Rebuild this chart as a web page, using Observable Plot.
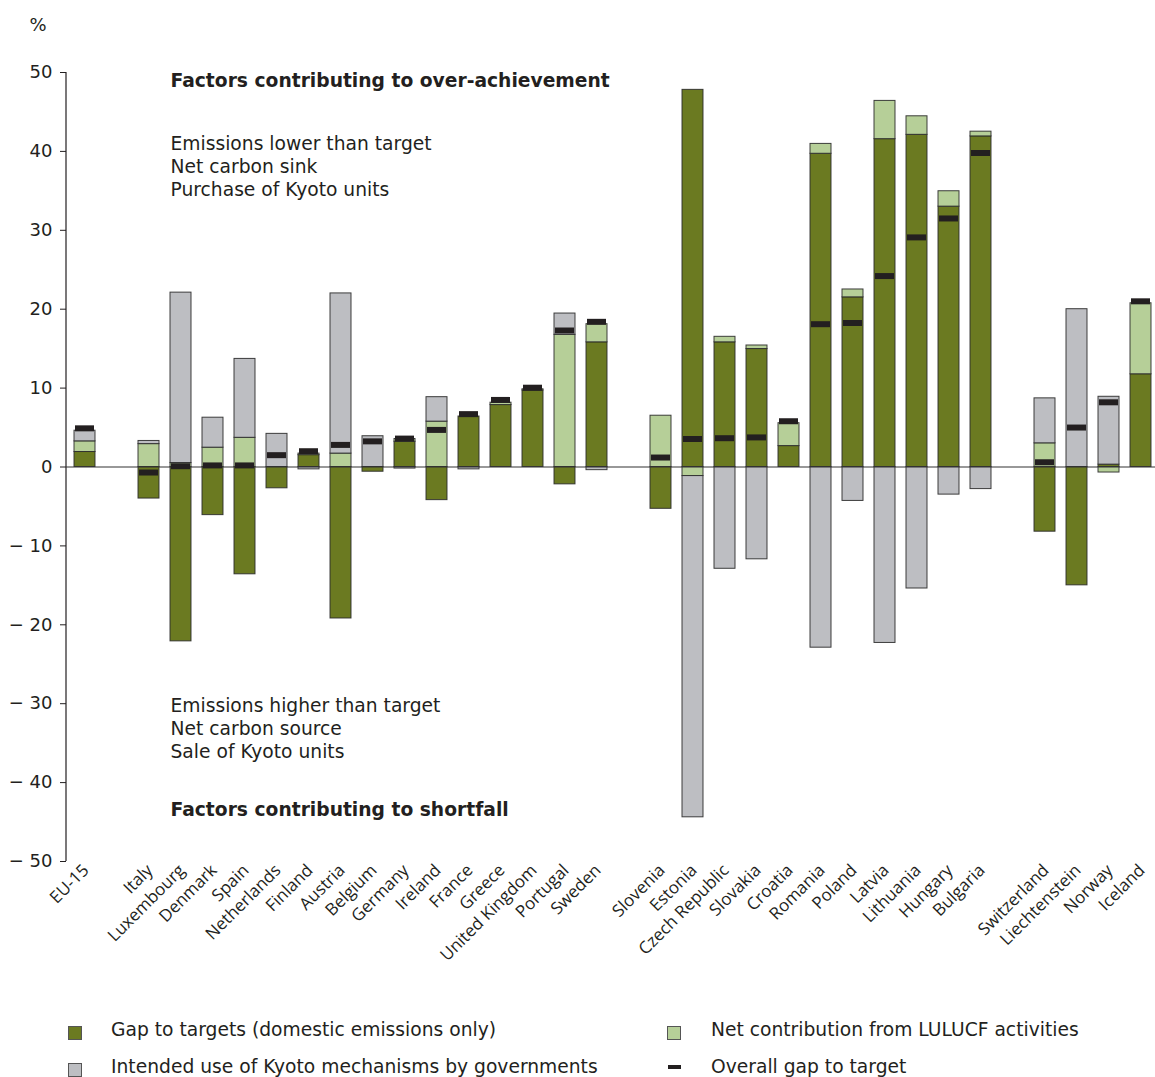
<!DOCTYPE html>
<html>
<head>
<meta charset="utf-8">
<script src="https://cdn.jsdelivr.net/npm/d3@7"></script>
<script src="https://cdn.jsdelivr.net/npm/@observablehq/plot@0.6"></script>
<style>
  html, body { margin: 0; padding: 0; background: white; overflow: hidden; }
  #chart svg { display: block; max-width: none; }
  #legend { position: relative; width: 1155px; height: 77px; font-family: "DejaVu Sans", Verdana, sans-serif; font-size: 18.7px; color: #231f20; }
  .lg-sw { position: absolute; box-sizing: border-box; }
  .lg-tx { position: absolute; line-height: 20px; white-space: nowrap; }
</style>
</head>
<body>
<div id="chart"></div>
<div id="legend"></div>
<script>
// ---- Data ----
const categories = ["EU-15",
  "Italy", "Luxembourg", "Denmark", "Spain", "Netherlands", "Finland", "Austria", "Belgium", "Germany",
  "Ireland", "France", "Greece", "United Kingdom", "Portugal", "Sweden",
  "Slovenia", "Estonia", "Czech Republic", "Slovakia", "Croatia", "Romania", "Poland", "Latvia",
  "Lithuania", "Hungary", "Bulgaria",
  "Switzerland", "Liechtenstein", "Norway", "Iceland"];
const groupEnds = ["EU-15", "Sweden", "Bulgaria"];

const seriesNames = [
  "Gap to targets (domestic emissions only)",
  "Net contribution from LULUCF activities",
  "Intended use of Kyoto mechanisms by governments",
  "Overall gap to target"
];

// Gap to targets (domestic emissions only), %
const gapValues = [1.9,
  -4.0, -22.1, -6.1, -13.6, -2.7, 1.5, -19.2, -0.6, 3.2,
  -4.2, 6.4, 7.85, 9.7, -2.2, 15.8,
  -5.3, 47.8, 15.8, 14.95, 2.65, 39.7, 21.5, 41.55,
  42.1, 33.0, 41.9,
  -8.2, -15.0, 0.3, 11.75];
// Net contribution from LULUCF activities, %
const lulucfValues = [1.35,
  2.9, 0.5, 2.45, 3.7, 0, 0.2, 1.7, 0, 0.35,
  5.75, 0, 0.3, 0.15, 16.75, 2.3,
  6.5, -1.15, 0.7, 0.45, 2.9, 1.25, 1.0, 4.85,
  2.35, 1.95, 0.6,
  3.0, 0, -0.7, 9.0];
// Intended use of Kyoto mechanisms by governments, %
const kyotoValues = [1.35,
  0.4, 21.6, 3.8, 10.0, 4.2, -0.3, 20.3, 3.9, -0.2,
  3.1, -0.3, 0, 0, 2.7, -0.4,
  0, -43.25, -12.9, -11.7, 0, -22.9, -4.3, -22.3,
  -15.4, -3.5, -2.8,
  5.7, 20.0, 8.6, 0];
// Overall gap to target, %
const overallValues = [4.9,
  -0.7, 0.1, 0.2, 0.2, 1.5, 2.0, 2.8, 3.25, 3.6,
  4.7, 6.7, 8.5, 10.05, 17.3, 18.4,
  1.2, 3.55, 3.65, 3.75, 5.8, 18.1, 18.25, 24.2,
  29.1, 31.5, 39.8,
  0.6, 5.0, 8.2, 21.0];

const yTicks = [50, 40, 30, 20, 10, 0, -10, -20, -30, -40, -50];

const headingNotes = ["Factors contributing to over-achievement", "Factors contributing to shortfall"];
const headingY = [48.9, -43.5];
const plainNotes = ["Emissions lower than target", "Net carbon sink", "Purchase of Kyoto units",
  "Emissions higher than target", "Net carbon source", "Sale of Kyoto units"];
const plainY = [40.9, 38.0, 35.1, -30.3, -33.2, -36.1];

const colors = ["#6b7a21", "#b6cf98", "#bdbec2", "#231f20"];

// ---- Build tables ----
const domain = [];
categories.forEach(c => {
  domain.push(c);
  if (groupEnds.includes(c)) domain.push("__gap_" + c);
});

const stackRows = [];
categories.forEach((c, i) => {
  [gapValues[i], lulucfValues[i], kyotoValues[i]].forEach((v, s) => {
    if (v !== 0) stackRows.push({country: c, series: seriesNames[s], value: v});
  });
});
const overallRows = categories.map((c, i) => ({country: c, value: overallValues[i]}));
const headings = headingNotes.map((t, i) => ({text: t, y: headingY[i]}));
const plains = plainNotes.map((t, i) => ({text: t, y: plainY[i]}));

const fmtY = d => d < 0 ? "\u2212 " + Math.abs(d) : String(d);

// vertical axis line along the left edge of the plot frame
function yAxisLine(index, scales, values, dimensions) {
  const {marginLeft, marginTop, marginBottom, height} = dimensions;
  const line = document.createElementNS("http://www.w3.org/2000/svg", "line");
  line.setAttribute("x1", marginLeft);
  line.setAttribute("x2", marginLeft);
  line.setAttribute("y1", marginTop);
  line.setAttribute("y2", height - marginBottom);
  line.setAttribute("stroke", "#231f20");
  line.setAttribute("stroke-width", 1.2);
  return line;
}

const chart = Plot.plot({
  width: 1155,
  height: 1000,
  marginLeft: 66,
  marginRight: -5,
  marginTop: 72,
  marginBottom: 139,
  style: {fontFamily: "DejaVu Sans, Verdana, sans-serif", fontSize: "18px", color: "#231f20", background: "white"},
  x: {domain, paddingInner: 0.33, paddingOuter: 0.16, axis: null, label: null},
  y: {domain: [-50, 50], axis: null, label: null},
  color: {domain: seriesNames.slice(0, 3), range: colors.slice(0, 3)},
  marks: [
    Plot.axisY({ticks: yTicks, tickFormat: fmtY, tickSize: 6, tickPadding: 8, stroke: "#231f20", fontSize: 18, label: null}),
    yAxisLine,
    Plot.axisX({ticks: categories, tickRotate: -45, tickSize: 0, tickPadding: 6, dx: 1, label: null,
      fontFamily: "Open Sans, sans-serif", fontSize: 17}),
    Plot.barY(stackRows, Plot.stackY({x: "country", y: "value", fill: "series", stroke: "#2a2a2a", strokeOpacity: 0.9, strokeWidth: 1})),
    Plot.ruleY([0], {stroke: "#333", strokeWidth: 1.2}),
    Plot.tickY(overallRows, {x: "country", y: "value", stroke: colors[3], strokeWidth: 6, insetLeft: 1, insetRight: 1}),
    Plot.text(headings, {y: "y", text: "text", frameAnchor: "left", dx: 104, textAnchor: "start", lineAnchor: "middle",
      fontWeight: "bold", fill: "#231f20", fontSize: 18.7}),
    Plot.text(plains, {y: "y", text: "text", frameAnchor: "left", dx: 104, textAnchor: "start", lineAnchor: "middle",
      fill: "#231f20", fontSize: 18.7}),
    Plot.text(["%"], {frameAnchor: "top-left", dx: -37, dy: -47, textAnchor: "start", lineAnchor: "middle", fill: "#231f20", fontSize: 18})
  ]
});
document.getElementById("chart").appendChild(chart);

// ---- Legend (HTML, below the SVG) ----
const legend = document.getElementById("legend");
const layout = [
  {s: 0, col: 0, row: 0}, {s: 1, col: 1, row: 0},
  {s: 2, col: 0, row: 1}, {s: 3, col: 1, row: 1}
];
const colX = [68, 667], textX = [111, 711], rowY = [30, 67];
layout.forEach(({s, col, row}) => {
  const sw = document.createElement("div");
  sw.className = "lg-sw";
  if (s < 3) {
    Object.assign(sw.style, {left: colX[col] + "px", top: (rowY[row] - 4) + "px", width: "14px", height: "14px",
      background: colors[s], border: "1px solid #555"});
  } else {
    Object.assign(sw.style, {left: (colX[col] + 1) + "px", top: (rowY[row] - 2) + "px", width: "13px", height: "4px",
      background: colors[s]});
  }
  legend.appendChild(sw);
  const tx = document.createElement("div");
  tx.className = "lg-tx";
  tx.textContent = seriesNames[s];
  Object.assign(tx.style, {left: textX[col] + "px", top: (rowY[row] - 10) + "px"});
  legend.appendChild(tx);
});
</script>
</body>
</html>
